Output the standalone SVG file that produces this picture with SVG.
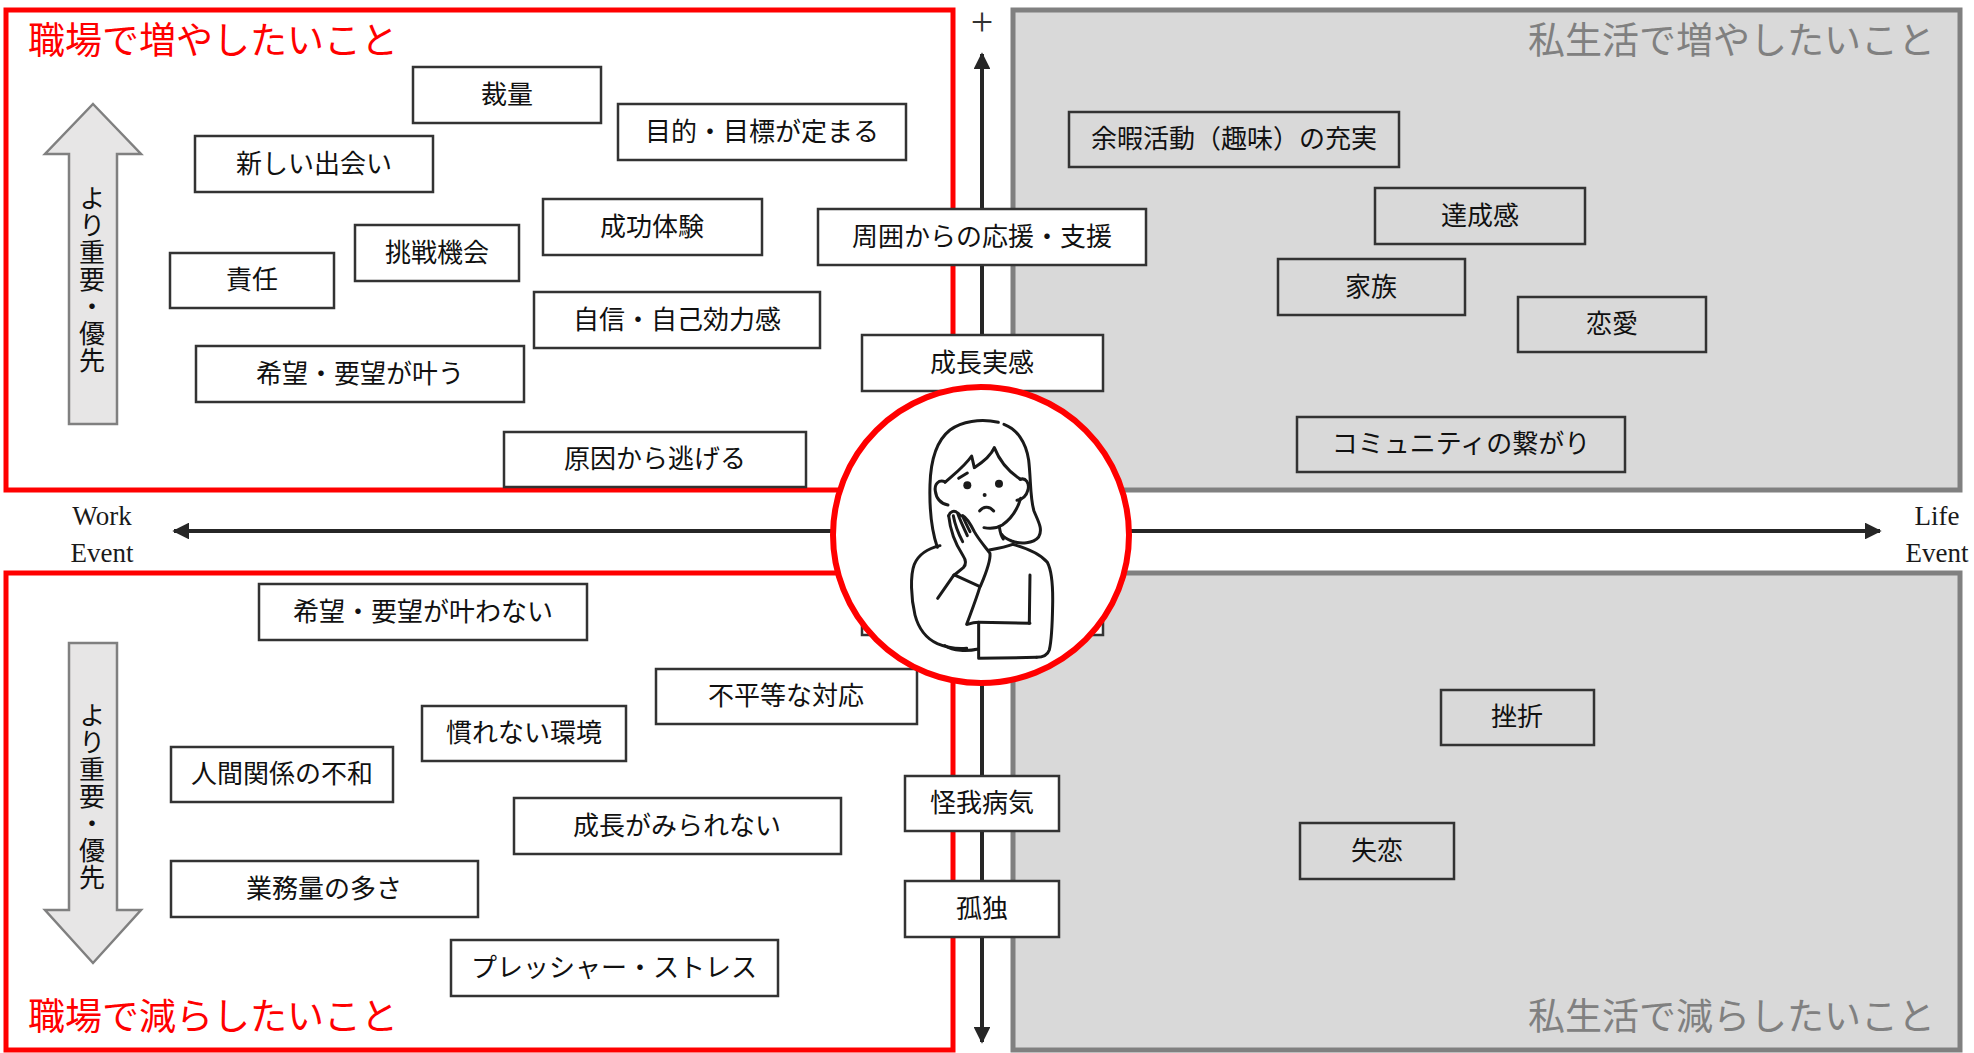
<svg xmlns="http://www.w3.org/2000/svg" width="1974" height="1053" viewBox="0 0 1974 1053">
  <defs>
    <style>
      .frame-work { fill: #ffffff; stroke: #ff0000; stroke-width: 5; }
      .frame-life { fill: #d9d9d9; stroke: #808080; stroke-width: 5; }
      .title { font-family: "Liberation Serif", "Noto Sans CJK JP", serif; font-size: 37px; dominant-baseline: central; }
      .title-work { fill: #ff0000; }
      .title-life { fill: #808080; text-anchor: end; }
      .box { fill: #ffffff; stroke: #333333; stroke-width: 2.5; }
      .box-g { fill: #d9d9d9; stroke: #333333; stroke-width: 2.5; }
      .lbl { font-family: "Liberation Serif", "Noto Sans CJK JP", serif; font-size: 26px; fill: #111111; text-anchor: middle; dominant-baseline: central; }
      .axis { stroke: #262626; stroke-width: 4; fill: none; }
      .axis-lbl { font-family: "Liberation Serif", serif; font-size: 27px; fill: #1a1a1a; text-anchor: middle; }
      .block { fill: #e7e6e6; stroke: #808080; stroke-width: 2.5; }
      .vtext { font-family: "Noto Sans CJK JP", sans-serif; font-size: 26px; letter-spacing: 1px; fill: #111111; writing-mode: vertical-rl; text-orientation: upright; text-anchor: middle; }
      .ink { fill: none; stroke: #1a1a1a; stroke-width: 9; stroke-linecap: round; stroke-linejoin: round; }
    </style>
    <marker id="tip" viewBox="0 0 10 10" refX="9" refY="5" markerWidth="4.2" markerHeight="4.2" orient="auto">
      <path d="M0,0 L10,5 L0,10 Z" fill="#262626"/>
    </marker>
  </defs>

  <rect width="1974" height="1053" fill="#ffffff"/>

  <!-- quadrant frames -->
  <g id="quadrants">
    <rect id="work-plus" class="frame-work" x="6" y="10" width="947" height="480"/>
    <rect id="work-minus" class="frame-work" x="6" y="573" width="947" height="477"/>
    <rect id="life-plus" class="frame-life" x="1013" y="10" width="947" height="480"/>
    <rect id="life-minus" class="frame-life" x="1013" y="573" width="947" height="477"/>
    <text class="title title-work" x="28" y="41">職場で増やしたいこと</text>
    <text class="title title-work" x="28" y="1017">職場で減らしたいこと</text>
    <text class="title title-life" x="1935" y="41">私生活で増やしたいこと</text>
    <text class="title title-life" x="1935" y="1017">私生活で減らしたいこと</text>
  </g>

  <!-- priority block arrows -->
  <g id="priority-up">
    <polygon class="block" points="93,104 141,154 117,154 117,424 69,424 69,154 45,154"/>
    <text class="vtext" x="92" y="280">より重要・優先</text>
  </g>
  <g id="priority-down">
    <polygon class="block" points="69,643 117,643 117,910 141,910 93,963 45,910 69,910"/>
    <text class="vtext" x="92" y="797">より重要・優先</text>
  </g>

  <!-- axes -->
  <g id="connectors">
    <line class="axis" x1="982" y1="535" x2="982" y2="54" marker-end="url(#tip)"/>
    <line class="axis" x1="982" y1="535" x2="982" y2="1042" marker-end="url(#tip)"/>
    <line class="axis" x1="982" y1="531" x2="174" y2="531" marker-end="url(#tip)"/>
    <line class="axis" x1="982" y1="531" x2="1880" y2="531" marker-end="url(#tip)"/>
  </g>
  <g id="axis-labels">
    <text x="982" y="35" font-family="Liberation Serif, serif" font-size="40" fill="#333333" text-anchor="middle">+</text>
    <text class="axis-lbl" x="102" y="525">Work</text>
    <text class="axis-lbl" x="102" y="562">Event</text>
    <text class="axis-lbl" x="1937" y="525">Life</text>
    <text class="axis-lbl" x="1937" y="562">Event</text>
  </g>

  <!-- work: things to increase -->
  <g id="n-sairyou"><rect class="box" x="413" y="67" width="188" height="56"/><text class="lbl" x="507" y="95">裁量</text></g>
  <g id="n-mokuteki"><rect class="box" x="618" y="104" width="288" height="56"/><text class="lbl" x="762" y="132">目的・目標が定まる</text></g>
  <g id="n-deai"><rect class="box" x="195" y="136" width="238" height="56"/><text class="lbl" x="314" y="164">新しい出会い</text></g>
  <g id="n-seikou"><rect class="box" x="543" y="199" width="219" height="56"/><text class="lbl" x="652" y="227">成功体験</text></g>
  <g id="n-ouen"><rect class="box" x="818" y="209" width="328" height="56"/><text class="lbl" x="982" y="237">周囲からの応援・支援</text></g>
  <g id="n-chousen"><rect class="box" x="355" y="225" width="164" height="56"/><text class="lbl" x="437" y="253">挑戦機会</text></g>
  <g id="n-sekinin"><rect class="box" x="170" y="253" width="164" height="55"/><text class="lbl" x="252" y="280">責任</text></g>
  <g id="n-jishin"><rect class="box" x="534" y="292" width="286" height="56"/><text class="lbl" x="677" y="320">自信・自己効力感</text></g>
  <g id="n-kibou"><rect class="box" x="196" y="346" width="328" height="56"/><text class="lbl" x="360" y="374">希望・要望が叶う</text></g>
  <g id="n-seichou"><rect class="box" x="862" y="335" width="241" height="56"/><text class="lbl" x="982" y="363">成長実感</text></g>
  <g id="n-genin"><rect class="box" x="504" y="432" width="302" height="55"/><text class="lbl" x="655" y="459">原因から逃げる</text></g>

  <!-- life: things to increase -->
  <g id="n-yoka"><rect class="box-g" x="1069" y="112" width="330" height="55"/><text class="lbl" x="1234" y="139">余暇活動（趣味）の充実</text></g>
  <g id="n-tassei"><rect class="box-g" x="1375" y="188" width="210" height="56"/><text class="lbl" x="1480" y="216">達成感</text></g>
  <g id="n-kazoku"><rect class="box-g" x="1278" y="259" width="187" height="56"/><text class="lbl" x="1371" y="287">家族</text></g>
  <g id="n-renai"><rect class="box-g" x="1518" y="297" width="188" height="55"/><text class="lbl" x="1612" y="324">恋愛</text></g>
  <g id="n-community"><rect class="box-g" x="1297" y="417" width="328" height="55"/><text class="lbl" x="1461" y="444">コミュニティの繋がり</text></g>

  <!-- work: things to reduce -->
  <g id="n-kanawanai"><rect class="box" x="259" y="584" width="328" height="56"/><text class="lbl" x="423" y="612">希望・要望が叶わない</text></g>
  <g id="n-blank"><rect class="box" x="862" y="579" width="241" height="56"/></g>
  <g id="n-fubyoudou"><rect class="box" x="656" y="669" width="261" height="55"/><text class="lbl" x="786" y="696">不平等な対応</text></g>
  <g id="n-narenai"><rect class="box" x="422" y="706" width="204" height="55"/><text class="lbl" x="524" y="733">慣れない環境</text></g>
  <g id="n-fuwa"><rect class="box" x="171" y="747" width="222" height="55"/><text class="lbl" x="282" y="774">人間関係の不和</text></g>
  <g id="n-mirarenai"><rect class="box" x="514" y="798" width="327" height="56"/><text class="lbl" x="677" y="826">成長がみられない</text></g>
  <g id="n-gyoumu"><rect class="box" x="171" y="861" width="307" height="56"/><text class="lbl" x="324" y="889">業務量の多さ</text></g>
  <g id="n-pressure"><rect class="box" x="451" y="940" width="327" height="56"/><text class="lbl" x="614" y="968">プレッシャー・ストレス</text></g>
  <g id="n-kega"><rect class="box" x="905" y="776" width="154" height="55"/><text class="lbl" x="982" y="803">怪我病気</text></g>
  <g id="n-kodoku"><rect class="box" x="905" y="881" width="154" height="56"/><text class="lbl" x="982" y="909">孤独</text></g>

  <!-- life: things to reduce -->
  <g id="n-zasetsu"><rect class="box-g" x="1441" y="690" width="153" height="55"/><text class="lbl" x="1517" y="717">挫折</text></g>
  <g id="n-shitsuren"><rect class="box-g" x="1300" y="823" width="154" height="56"/><text class="lbl" x="1377" y="851">失恋</text></g>

  <!-- centre: thinking person -->
  <g id="center">
    <circle cx="981" cy="535" r="148" fill="#ffffff" stroke="#ff0000" stroke-width="6"/>
    <g transform="translate(830 385) scale(0.3333)">
      <path class="ink" d="M322,487 C306,440 298,370 300,300 C302,220 322,165 360,135 C395,110 450,100 505,112"/>
      <path class="ink" d="M522,118 C560,132 588,170 596,225 C603,285 600,340 612,378 C624,408 640,432 626,456 C610,476 572,478 545,468 C530,462 520,455 515,448"/>
      <path class="ink" d="M345,292 C372,268 405,243 425,213 L433,248 C458,232 482,214 493,188 C508,226 532,258 572,283"/>
      <path class="ink" d="M345,290 C325,283 313,298 316,318 C319,342 334,356 354,360"/>
      <path class="ink" d="M570,283 C588,277 599,294 594,315 C589,334 577,344 561,346"/>
      <path class="ink" d="M572,340 C562,375 545,400 517,420 C500,430 480,432 462,428"/>
      <path class="ink" d="M508,425 C510,440 512,452 520,462"/>
      <path class="ink" d="M386,280 L412,264"/>
      <circle cx="412" cy="301" r="12" fill="#1a1a1a"/>
      <circle cx="507" cy="296" r="12" fill="#1a1a1a"/>
      <circle cx="464" cy="330" r="6" fill="#1a1a1a"/>
      <path class="ink" d="M449,378 C459,364 478,362 491,378"/>
      <path class="ink" d="M356,392 C360,380 372,374 383,384 C390,390 394,396 398,392 C410,398 422,418 433,440 C445,462 465,485 480,505 C482,525 470,560 452,602"/>
      <path class="ink" d="M356,392 C360,430 375,475 398,510 C408,525 410,538 400,548 L373,570"/>
      <path class="ink" d="M370,392 C375,420 385,445 398,470"/>
      <path class="ink" d="M384,388 C392,410 402,430 412,452"/>
      <path class="ink" d="M399,396 C406,412 414,428 420,440"/>
      <path class="ink" d="M373,570 L450,605"/>
      <path class="ink" d="M323,640 L372,570"/>
      <path class="ink" d="M330,482 C295,490 266,508 253,538 C240,572 243,640 255,690 C266,732 292,762 322,776 C350,788 385,792 410,790"/>
      <path class="ink" d="M450,605 C438,645 422,685 410,718"/>
      <path class="ink" d="M345,782 C370,798 410,800 445,792"/>
      <path class="ink" d="M412,718 C425,714 435,712 446,712 L600,715"/>
      <path class="ink" d="M446,712 L446,820 L620,817"/>
      <path class="ink" d="M478,495 C505,490 530,485 548,478 C592,490 632,508 652,532 C667,560 669,610 668,660 C667,720 664,770 658,795 C652,812 638,817 620,817"/>
      <path class="ink" d="M600,570 L598,715"/>
    </g>
  </g>
</svg>
